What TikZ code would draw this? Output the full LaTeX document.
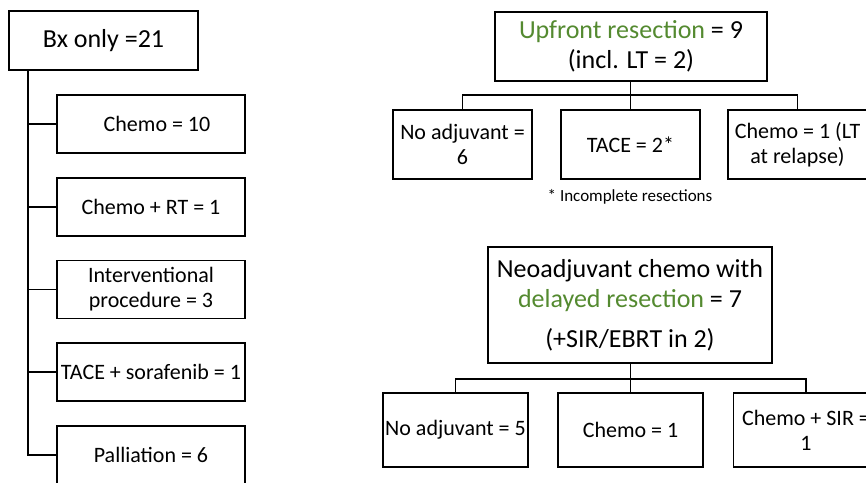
\documentclass[tikz,border=0pt]{standalone}
\usepackage{fontspec}
\setmainfont{Carlito}
\definecolor{grn}{RGB}{84,138,48}
\begin{document}
\begin{tikzpicture}[x=1pt,y=-1pt,
  box/.style={draw=black,line width=1.6pt,inner sep=0pt,align=center,fill=white},
  big/.style={font=\fontsize{26}{30}\selectfont},
  small/.style={font=\fontsize{22}{25}\selectfont},
  conn/.style={draw=black,line width=1.6pt}]
\clip (0,0) rectangle (866,482);
\fill[white] (0,0) rectangle (866,482);
% left tree
\node[box,big,minimum width=189,minimum height=59] (bx) at (103.5,40.5) {Bx only =21};
\node[box,small,minimum width=188,minimum height=58] (l1) at (151,124) {\hspace{12pt}Chemo = 10};
\node[box,small,minimum width=188,minimum height=58] (l2) at (151,207) {Chemo + RT = 1};
\node[box,small,minimum width=188,minimum height=58] (l3) at (151,289.5) {Interventional\\procedure = 3};
\node[box,small,minimum width=188,minimum height=58] (l4) at (151,372) {TACE + sorafenib = 1};
\node[box,small,minimum width=188,minimum height=58] (l5) at (151,455) {Palliation = 6};
\coordinate (t0) at (28,70);
\draw[conn] (t0) |- (l5.west);
\draw[conn] (t0 |- l1.west) -- (l1.west);
\draw[conn] (t0 |- l2.west) -- (l2.west);
\draw[conn] (t0 |- l3.west) -- (l3.west);
\draw[conn] (t0 |- l4.west) -- (l4.west);
% upfront
\node[box,big,minimum width=272,minimum height=69] (up) at (631,46.5) {\textcolor{grn}{Upfront resection} = 9\\(incl. LT = 2)};
\node[box,small,minimum width=139,minimum height=69] (ua) at (462.5,144.5) {No adjuvant =\\6};
\node[box,small,minimum width=139,minimum height=69] (ub) at (630.5,144.5) {TACE = 2*};
\node[box,small,minimum width=139,minimum height=69] (uc) at (797.5,144.5) {Chemo = 1 (LT\\at relapse)};
\coordinate (uj) at (630.5,95);
\draw[conn] (up.south -| uj) -- (uj);
\draw[conn] (ua.north) |- (uj) -| (uc.north);
\draw[conn] (uj) -- (ub.north);
\node[font=\fontsize{17}{20}\selectfont,inner sep=0pt] (fn) at (630,197) {* Incomplete resections};
% neoadjuvant
\node[box,big,minimum width=284,minimum height=116] (neo) at (630,305) {Neoadjuvant chemo with\\\textcolor{grn}{delayed resection} = 7\\[10pt](+SIR/EBRT in 2)};
\node[box,small,minimum width=145,minimum height=74] (na) at (455.5,430) {No adjuvant = 5};
\node[box,small,minimum width=145,minimum height=74] (nb) at (630.5,430) {Chemo = 1};
\node[box,small,minimum width=145,minimum height=74] (nc) at (806,430) {Chemo + SIR =\\1};
\coordinate (nj) at (630.5,379);
\draw[conn] (neo.south -| nj) -- (nj);
\draw[conn] (na.north) |- (nj) -| (nc.north);
\draw[conn] (nj) -- (nb.north);
\end{tikzpicture}
\end{document}
